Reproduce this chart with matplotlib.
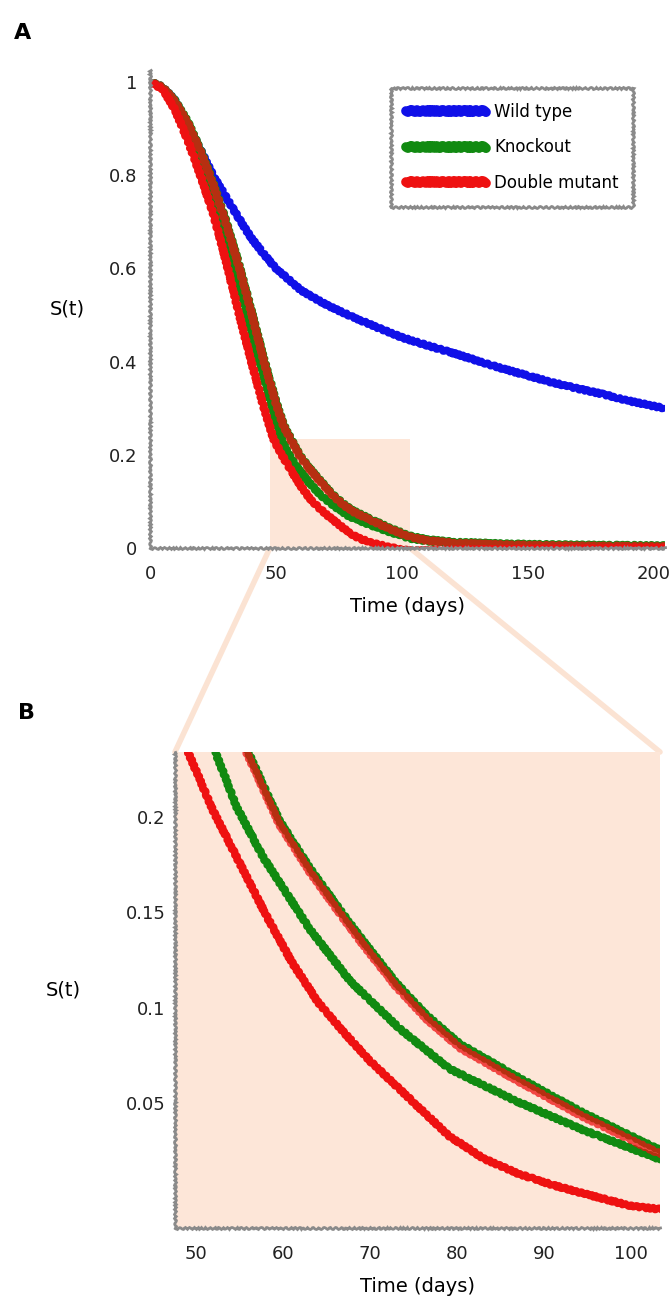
import matplotlib
matplotlib.use("Agg")
import matplotlib.pyplot as plt
from matplotlib.patches import Rectangle, ConnectionPatch

plt.rcParams["font.family"] = ["DejaVu Sans"]

# ---- data ----
t_blue = [0, 5, 10, 15, 20, 25, 30, 35, 40, 45, 50, 60, 70, 80, 90, 100,
          110, 120, 130, 140, 150, 160, 170, 180, 190, 204]
s_blue = [1.0, 0.99, 0.96, 0.91, 0.855, 0.80, 0.755, 0.71, 0.667, 0.632, 0.60,
          0.553, 0.522, 0.497, 0.474, 0.452, 0.435, 0.419, 0.402, 0.385, 0.370,
          0.355, 0.342, 0.330, 0.316, 0.300]

t_green1 = [0, 5, 10, 15, 20, 25, 30, 35, 40, 45, 49, 52.4, 54.7, 57.7, 60.4,
            63.1, 67.7, 73.4, 79.1, 86.8, 94.4, 103, 110, 120, 140, 160, 180, 204]
s_green1 = [1.0, 0.99, 0.955, 0.90, 0.835, 0.76, 0.675, 0.575, 0.47, 0.37, 0.29,
            0.232, 0.205, 0.179, 0.160, 0.141, 0.114, 0.089, 0.068, 0.051, 0.036,
            0.021, 0.015, 0.011, 0.007, 0.005, 0.004, 0.003]

t_green2 = [0, 5, 10, 15, 20, 25, 30, 35, 40, 45, 50, 53, 56.2, 59.6, 63.1, 66.9,
            69.2, 73, 76.5, 80.3, 86.8, 94.4, 103, 110, 120, 140, 160, 180, 204]
s_green2 = [1.0, 0.99, 0.96, 0.915, 0.855, 0.785, 0.705, 0.615, 0.515, 0.41, 0.315,
            0.265, 0.232, 0.198, 0.173, 0.149, 0.135, 0.113, 0.096, 0.081, 0.064,
            0.045, 0.026, 0.018, 0.013, 0.009, 0.007, 0.006, 0.005]

t_red1 = [0, 5, 10, 15, 20, 25, 30, 35, 40, 45, 49, 52, 55, 58, 61, 64, 67, 70,
          73, 76, 79, 83, 87, 91, 95, 100, 104, 120, 150, 204]
s_red1 = [1.0, 0.985, 0.94, 0.875, 0.80, 0.72, 0.62, 0.51, 0.405, 0.305, 0.235,
          0.203, 0.176, 0.149, 0.124, 0.103, 0.087, 0.072, 0.059, 0.046, 0.033,
          0.021, 0.013, 0.007, 0.002, -0.004, -0.006, -0.004, -0.002, 0.0]

t_red2 = [0, 5, 10, 15, 20, 25, 30, 35, 40, 45, 50, 53, 56.2, 59.6, 63.1, 66.9,
          69.2, 73, 76.5, 80.3, 86.8, 94.4, 103, 110, 120, 140, 160, 180, 204]
s_red2 = [1.0, 0.99, 0.958, 0.912, 0.852, 0.782, 0.70, 0.61, 0.51, 0.405, 0.31,
          0.262, 0.230, 0.196, 0.171, 0.147, 0.133, 0.111, 0.094, 0.079, 0.062,
          0.043, 0.024, 0.016, 0.011, 0.007, 0.005, 0.004, 0.003]

labels = ["Wild type", "Knockout", "Double mutant"]
x_ticks_a = [0, 50, 100, 150, 200]
y_ticks_a = [0, 0.2, 0.4, 0.6, 0.8, 1.0]
y_labels_a = ["0", "0.2", "0.4", "0.6", "0.8", "1"]
x_ticks_b = [50, 60, 70, 80, 90, 100]
y_ticks_b = [0.05, 0.1, 0.15, 0.2]
y_labels_b = ["0.05", "0.1", "0.15", "0.2"]
zoom_x = (47.6, 103.3)
zoom_y = (-0.0155, 0.234)

BLUE, GREEN, RED = "#1010e8", "#118a11", "#ee1111"
PEACH = "#fde6d8"
SPINE = "#8a8a8a"

W, H = 669, 1307
fig = plt.figure(figsize=(W / 100, H / 100), dpi=100)

def px_axes(l, t, r, b):
    return fig.add_axes([l / W, 1 - b / H, (r - l) / W, (b - t) / H])

ax1 = px_axes(150, 70, 665, 548)
ax2 = px_axes(175, 752, 660, 1228)


def draw_curves(ax, lw):
    lines = []
    lines += ax.plot(t_blue, s_blue, color=BLUE, lw=lw, label=labels[0])
    lines += ax.plot(t_green1, s_green1, color=GREEN, lw=lw, label=labels[1])
    lines += ax.plot(t_green2, s_green2, color=GREEN, lw=lw)
    lines += ax.plot(t_red1, s_red1, color=RED, lw=lw, label=labels[2])
    lines += ax.plot(t_red2, s_red2, color=RED, lw=lw, alpha=0.75)
    for ln in lines:
        ln.set_sketch_params(1.2, 6, 2)
        ln.set_solid_capstyle("round")
    return lines


def style_axes(ax):
    for side in ["top", "right"]:
        ax.spines[side].set_visible(False)
    for side in ["left", "bottom"]:
        ax.spines[side].set_color(SPINE)
        ax.spines[side].set_linewidth(2)
        ax.spines[side].set_sketch_params(1.0, 5, 2)
    ax.tick_params(length=0, labelsize=13, colors="#222222")


# ---- panel A ----
ax1.add_patch(Rectangle((zoom_x[0], zoom_y[0]), zoom_x[1] - zoom_x[0],
                        zoom_y[1] - zoom_y[0], facecolor=PEACH, edgecolor="none", zorder=0))
draw_curves(ax1, 5)
ax1.set_xlim(0, 204.5)
ax1.set_ylim(0, 1.026)
ax1.set_xticks(x_ticks_a)
ax1.set_yticks(y_ticks_a, y_labels_a)
style_axes(ax1)
ax1.tick_params(axis="x", pad=12)
ax1.tick_params(axis="y", pad=9)
ax1.set_xlabel("Time (days)", fontsize=14, labelpad=10)
ax1.set_ylabel("S(t)", fontsize=14, rotation=0, labelpad=30, va="center")
leg = ax1.legend(loc="upper right", bbox_to_anchor=(0.955, 0.98), fontsize=12,
                 handlelength=4.8, handletextpad=0.5, labelspacing=1.05,
                 borderpad=0.9, fancybox=False, framealpha=1)
leg.get_frame().set_edgecolor(SPINE)
leg.get_frame().set_linewidth(2)
leg.get_frame().set_sketch_params(1.0, 5, 2)
for h in leg.legend_handles:
    h.set_linewidth(7)

# ---- panel B ----
ax2.set_facecolor(PEACH)
draw_curves(ax2, 5)
ax2.set_xlim(*zoom_x)
ax2.set_ylim(*zoom_y)
ax2.set_xticks(x_ticks_b)
ax2.set_yticks(y_ticks_b, y_labels_b)
style_axes(ax2)
ax2.tick_params(axis="x", pad=12)
ax2.tick_params(axis="y", pad=7)
ax2.set_xlabel("Time (days)", fontsize=14, labelpad=10)
ax2.set_ylabel("S(t)", fontsize=14, rotation=0, labelpad=45, va="center")

# zoom connectors
for xa, xb in [(zoom_x[0], 0), (zoom_x[1], 1)]:
    con = ConnectionPatch(xyA=(xa, 0), coordsA=ax1.transData,
                          xyB=(xb, 1), coordsB=ax2.transAxes,
                          color="#fbdcc8", lw=4, alpha=0.8, zorder=-1)
    fig.add_artist(con)

fig.text(23 / W, 1 - 33 / H, "A", fontsize=16, fontweight="bold", ha="center", va="center")
fig.text(27 / W, 1 - 713 / H, "B", fontsize=16, fontweight="bold", ha="center", va="center")

fig.savefig("out.png", dpi=100)
